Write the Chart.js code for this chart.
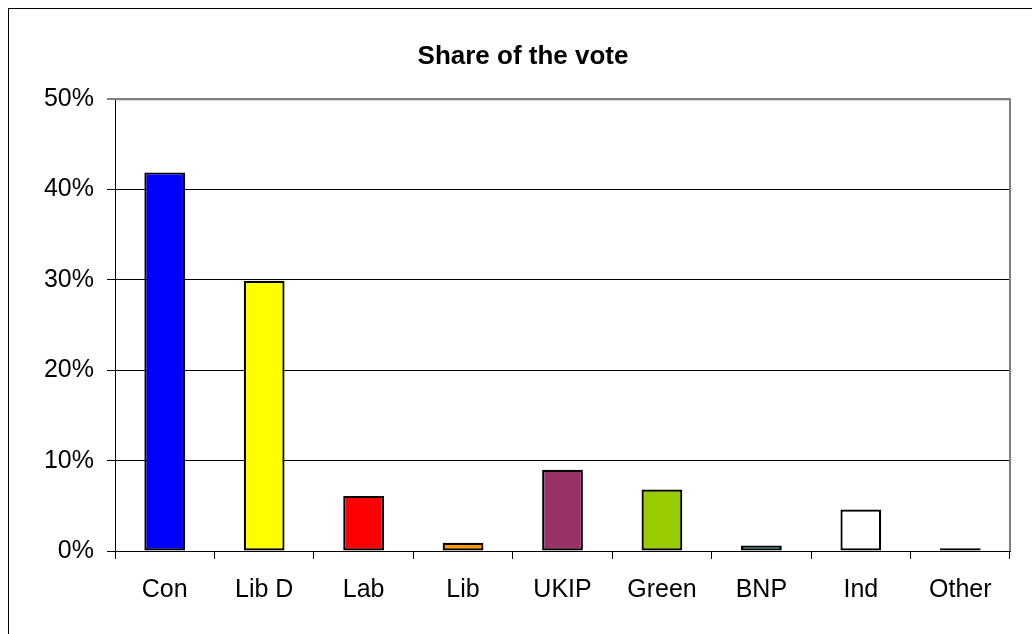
<!DOCTYPE html>
<html>
<head>
<meta charset="utf-8">
<script src="https://cdn.jsdelivr.net/npm/chart.js@4/dist/chart.umd.min.js"></script>
<style>
  html, body { margin: 0; padding: 0; background: #fff; overflow: hidden; }
  #frame { position: absolute; left: 8px; top: 8px; width: 1200px; height: 800px; border-left: 1px solid #000; border-top: 1px solid #000; box-sizing: border-box; }
  #c { position: absolute; left: 0; top: 0; }
</style>
</head>
<body>
<div id="frame"></div>
<canvas id="c" width="1032" height="634"></canvas>
<script>
const categories = ["Con", "Lib D", "Lab", "Lib", "UKIP", "Green", "BNP", "Ind", "Other"];
const shareValues = [41.9, 29.9, 6.1, 0.9, 9.0, 6.8, 0.6, 4.6, 0.3];
const barColors = ["#0000FF", "#FFFF00", "#FF0000", "#FF9900", "#993366", "#99CC00", "#33CCCC", "#FFFFFF", "#000000"];
const yTickValues = [0, 10, 20, 30, 40, 50];
const chartTitle = "Share of the vote";

const FONT = "'Liberation Sans', Arial, sans-serif";

const plotBorder = {
  id: 'plotBorder',
  beforeDatasetsDraw(chart) {
    const a = chart.chartArea, ctx = chart.ctx;
    ctx.save();
    ctx.strokeStyle = '#808080';
    ctx.lineWidth = 2;
    ctx.beginPath();
    ctx.moveTo(a.left, a.top);
    ctx.lineTo(a.right, a.top);
    ctx.lineTo(a.right, a.bottom);
    ctx.stroke();
    ctx.restore();
  }
};

new Chart(document.getElementById('c'), {
  type: 'bar',
  data: {
    labels: categories,
    datasets: [{
      data: shareValues,
      backgroundColor: barColors,
      borderColor: '#000',
      borderWidth: 2.2,
      borderSkipped: false,
      barPercentage: 0.41,
      categoryPercentage: 1.0
    }]
  },
  options: {
    responsive: false,
    animation: false,
    devicePixelRatio: 1,
    layout: { padding: { left: 36, right: 22, top: 0, bottom: 0 } },
    plugins: {
      legend: { display: false },
      tooltip: { enabled: false },
      title: {
        display: true,
        text: chartTitle,
        color: '#000',
        font: { family: FONT, size: 26, weight: 'bold' },
        padding: { top: 41, bottom: 27 }
      }
    },
    scales: {
      x: {
        afterFit(s) { s.height = 83; },
        grid: { drawOnChartArea: false, offset: true, tickLength: 8, color: '#000', lineWidth: 1 },
        border: { display: true, color: '#000', width: 1 },
        ticks: { color: '#000', font: { family: FONT, size: 25 }, padding: 16, maxRotation: 0 }
      },
      y: {
        min: 0, max: 50,
        afterFit(s) { s.width = 79; },
        afterBuildTicks(s) { s.ticks = yTickValues.map(v => ({ value: v })); },
        grid: {
          tickLength: 8,
          color: c => (c.tick && c.tick.value === 50) ? '#808080' : '#000',
          lineWidth: c => (c.tick && c.tick.value === 50) ? 2 : 1
        },
        border: { display: true, color: '#000', width: 1 },
        ticks: { color: '#000', font: { family: FONT, size: 25 }, padding: 13, callback: v => v + '%' }
      }
    }
  },
  plugins: [plotBorder]
});
</script>
</body>
</html>
